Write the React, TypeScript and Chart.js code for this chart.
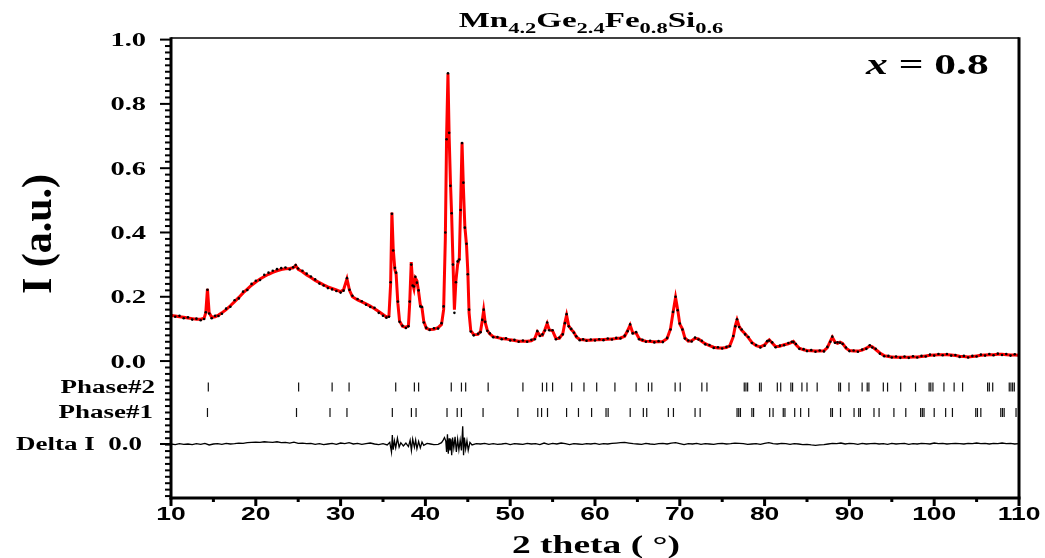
import React, { useEffect, useRef } from "react";
import { Chart, registerables } from "chart.js";

Chart.register(...registerables);

// ---------- data ----------
const TWO_THETA = [
  10.0, 10.5, 11.0, 11.5, 12.0, 12.5, 13.0, 13.5, 13.9, 14.1,
  14.3, 14.5, 14.8, 15.2, 15.6, 16.0, 16.5, 17.0, 17.5, 18.0,
  18.5, 19.0, 19.5, 20.0, 20.5, 21.0, 21.5, 22.0, 22.5, 23.0,
  23.5, 24.0, 24.4, 24.7, 25.0, 25.5, 26.0, 26.5, 27.0, 27.5,
  28.0, 28.5, 29.0, 29.5, 30.0, 30.35, 30.75, 31.05, 31.4, 32.0,
  32.5, 33.0, 33.5, 34.0, 34.5, 35.0, 35.4, 35.7, 35.9, 36.05,
  36.2, 36.4, 36.55, 36.75, 36.95, 37.3, 37.7, 38.0, 38.15, 38.33,
  38.5, 38.65, 38.82, 39.0, 39.2, 39.4, 39.6, 39.8, 40.1, 40.5,
  41.0, 41.5, 41.9, 42.15, 42.35, 42.5, 42.66, 42.8, 42.95, 43.1,
  43.25, 43.42, 43.6, 43.8, 44.0, 44.15, 44.32, 44.48, 44.65, 44.85,
  45.0, 45.15, 45.35, 45.7, 46.2, 46.5, 46.7, 46.87, 47.05, 47.3,
  47.6, 48.0, 48.5, 49.0, 49.5, 50.0, 50.5, 51.0, 51.5, 52.0,
  52.5, 52.9, 53.2, 53.5, 53.8, 54.1, 54.36, 54.6, 55.0, 55.4,
  55.8, 56.2, 56.45, 56.65, 56.9, 57.2, 57.5, 57.8, 58.2, 58.6,
  59.0, 59.5, 60.0, 60.5, 61.0, 61.5, 62.0, 62.5, 63.0, 63.5,
  63.85, 64.14, 64.45, 64.85, 65.2, 65.6, 66.0, 66.5, 67.0, 67.5,
  68.0, 68.5, 68.9, 69.2, 69.5, 69.75, 70.0, 70.3, 70.6, 71.0,
  71.4, 71.8, 72.2, 72.6, 73.0, 73.5, 74.0, 74.5, 75.0, 75.5,
  75.9, 76.3, 76.55, 76.75, 77.0, 77.3, 77.7, 78.1, 78.5, 79.0,
  79.5, 80.0, 80.3, 80.55, 80.9, 81.3, 81.8, 82.3, 82.8, 83.2,
  83.4, 83.7, 84.1, 84.6, 85.0, 85.5, 86.0, 86.5, 87.0, 87.4,
  87.75, 87.98, 88.3, 88.6, 88.9, 89.2, 89.6, 90.0, 90.5, 91.0,
  91.5, 92.0, 92.4, 92.7, 93.1, 93.6, 94.1, 94.6, 95.0, 95.5,
  96.0, 96.5, 97.0, 97.5, 98.0, 98.5, 99.0, 99.5, 100.0, 100.5,
  101.0, 101.5, 102.0, 102.5, 103.0, 103.5, 104.0, 104.5, 105.0, 105.5,
  106.0, 106.5, 107.0, 107.5, 108.0, 108.5, 109.0, 109.5, 110.0,
];

const I_CALC = [
  0.142, 0.140, 0.138, 0.136, 0.134, 0.132, 0.130, 0.130, 0.133, 0.150,
  0.225, 0.150, 0.136, 0.138, 0.143, 0.150, 0.160, 0.172, 0.185, 0.198,
  0.212, 0.224, 0.236, 0.246, 0.255, 0.263, 0.270, 0.276, 0.281, 0.285,
  0.287, 0.288, 0.290, 0.297, 0.285, 0.278, 0.268, 0.260, 0.251, 0.244,
  0.237, 0.231, 0.226, 0.221, 0.216, 0.222, 0.256, 0.220, 0.200, 0.190,
  0.184, 0.178, 0.171, 0.163, 0.154, 0.145, 0.137, 0.140, 0.240, 0.462,
  0.350, 0.285, 0.270, 0.180, 0.125, 0.108, 0.105, 0.110, 0.180, 0.308,
  0.240, 0.225, 0.258, 0.250, 0.215, 0.175, 0.165, 0.125, 0.102, 0.098,
  0.099, 0.104, 0.114, 0.160, 0.380, 0.700, 0.894, 0.700, 0.560, 0.450,
  0.310, 0.160, 0.250, 0.300, 0.320, 0.480, 0.680, 0.540, 0.420, 0.360,
  0.280, 0.150, 0.095, 0.082, 0.083, 0.092, 0.125, 0.158, 0.120, 0.096,
  0.084, 0.076, 0.073, 0.070, 0.069, 0.066, 0.064, 0.062, 0.062, 0.062,
  0.063, 0.070, 0.091, 0.080, 0.080, 0.098, 0.117, 0.098, 0.094, 0.070,
  0.071, 0.085, 0.120, 0.143, 0.110, 0.098, 0.090, 0.075, 0.067, 0.066,
  0.065, 0.065, 0.066, 0.066, 0.067, 0.068, 0.069, 0.070, 0.072, 0.077,
  0.095, 0.112, 0.088, 0.087, 0.070, 0.064, 0.062, 0.061, 0.060, 0.060,
  0.061, 0.070, 0.100, 0.150, 0.198, 0.160, 0.115, 0.100, 0.072, 0.062,
  0.063, 0.071, 0.069, 0.061, 0.054, 0.048, 0.043, 0.041, 0.041, 0.042,
  0.048, 0.075, 0.110, 0.128, 0.108, 0.096, 0.085, 0.072, 0.058, 0.048,
  0.044, 0.050, 0.060, 0.066, 0.056, 0.045, 0.046, 0.051, 0.054, 0.058,
  0.061, 0.051, 0.040, 0.035, 0.033, 0.032, 0.031, 0.031, 0.032, 0.042,
  0.062, 0.074, 0.059, 0.055, 0.059, 0.055, 0.040, 0.033, 0.031, 0.031,
  0.034, 0.040, 0.047, 0.044, 0.036, 0.025, 0.017, 0.014, 0.013, 0.012,
  0.012, 0.012, 0.012, 0.013, 0.013, 0.014, 0.016, 0.018, 0.019, 0.020,
  0.020, 0.020, 0.019, 0.017, 0.015, 0.014, 0.013, 0.014, 0.016, 0.018,
  0.019, 0.020, 0.020, 0.021, 0.021, 0.020, 0.019, 0.019, 0.018,
];

const I_OBS = [
  0.145, 0.138, 0.141, 0.133, 0.136, 0.129, 0.132, 0.127, 0.131, 0.152,
  0.222, 0.148, 0.133, 0.141, 0.140, 0.147, 0.163, 0.169, 0.189, 0.195,
  0.216, 0.221, 0.240, 0.250, 0.252, 0.268, 0.275, 0.281, 0.286, 0.289,
  0.291, 0.285, 0.292, 0.299, 0.288, 0.281, 0.272, 0.263, 0.254, 0.241,
  0.235, 0.227, 0.223, 0.218, 0.213, 0.219, 0.258, 0.222, 0.203, 0.193,
  0.186, 0.175, 0.168, 0.166, 0.150, 0.141, 0.135, 0.138, 0.245, 0.458,
  0.344, 0.290, 0.275, 0.185, 0.122, 0.110, 0.103, 0.108, 0.185, 0.300,
  0.235, 0.232, 0.262, 0.244, 0.220, 0.170, 0.168, 0.120, 0.104, 0.097,
  0.102, 0.101, 0.118, 0.170, 0.400, 0.690, 0.895, 0.710, 0.545, 0.460,
  0.300, 0.150, 0.245, 0.310, 0.316, 0.470, 0.678, 0.555, 0.415, 0.365,
  0.270, 0.160, 0.092, 0.080, 0.085, 0.090, 0.128, 0.160, 0.122, 0.094,
  0.086, 0.074, 0.075, 0.068, 0.071, 0.064, 0.066, 0.060, 0.064, 0.060,
  0.066, 0.068, 0.093, 0.078, 0.083, 0.095, 0.120, 0.096, 0.096, 0.068,
  0.073, 0.083, 0.118, 0.146, 0.108, 0.100, 0.088, 0.077, 0.065, 0.068,
  0.063, 0.067, 0.064, 0.068, 0.065, 0.070, 0.067, 0.072, 0.070, 0.079,
  0.093, 0.114, 0.086, 0.090, 0.068, 0.066, 0.060, 0.063, 0.058, 0.062,
  0.059, 0.072, 0.098, 0.153, 0.200, 0.158, 0.117, 0.098, 0.070, 0.064,
  0.061, 0.073, 0.067, 0.063, 0.052, 0.050, 0.041, 0.043, 0.039, 0.044,
  0.046, 0.078, 0.108, 0.130, 0.106, 0.098, 0.083, 0.075, 0.056, 0.050,
  0.042, 0.048, 0.062, 0.064, 0.058, 0.043, 0.048, 0.049, 0.056, 0.060,
  0.059, 0.053, 0.038, 0.037, 0.031, 0.034, 0.029, 0.033, 0.030, 0.044,
  0.060, 0.076, 0.057, 0.058, 0.057, 0.053, 0.042, 0.031, 0.033, 0.029,
  0.036, 0.038, 0.049, 0.042, 0.038, 0.023, 0.015, 0.016, 0.011, 0.014,
  0.010, 0.014, 0.010, 0.015, 0.011, 0.016, 0.014, 0.020, 0.017, 0.022,
  0.018, 0.022, 0.017, 0.019, 0.013, 0.016, 0.011, 0.016, 0.014, 0.020,
  0.017, 0.022, 0.018, 0.023, 0.019, 0.022, 0.017, 0.021, 0.016,
];

const DELTA_X = [
  10, 10.5, 11, 11.5, 12, 12.5, 13, 13.5, 14, 14.5,
  15, 15.5, 16, 16.5, 17, 17.5, 18, 18.5, 19, 19.5,
  20, 20.5, 21, 21.5, 22, 22.5, 23, 23.5, 24, 24.5,
  25, 25.5, 26, 26.5, 27, 27.5, 28, 28.5, 29, 29.5,
  30, 30.5, 31, 31.5, 32, 32.5, 33, 33.5, 34, 34.5,
  35, 35.5, 35.8, 36.0, 36.1, 36.2, 36.35, 36.5, 36.7, 36.9,
  37.1, 37.4, 37.7, 38.0, 38.2, 38.35, 38.5, 38.7, 38.85, 39.0,
  39.2, 39.4, 39.6, 39.8, 40.2, 40.6, 41.0, 41.5, 41.9, 42.1,
  42.25, 42.4, 42.5, 42.6, 42.7, 42.8, 42.9, 43.0, 43.1, 43.2,
  43.35, 43.5, 43.65, 43.8, 43.95, 44.1, 44.25, 44.4, 44.5, 44.6,
  44.75, 44.9, 45.05, 45.25, 45.5, 46, 46.5, 47, 47.5, 48,
  48.5, 49, 49.5, 50, 50.5, 51, 51.5, 52, 52.5, 53,
  53.5, 54, 54.5, 55, 55.5, 56, 56.5, 57, 57.5, 58,
  58.5, 59, 59.5, 60, 60.5, 61, 61.5, 62, 62.5, 63,
  63.5, 64, 64.5, 65, 65.5, 66, 66.5, 67, 67.5, 68,
  68.5, 69, 69.5, 70, 70.5, 71, 71.5, 72, 72.5, 73,
  73.5, 74, 74.5, 75, 75.5, 76, 76.5, 77, 77.5, 78,
  78.5, 79, 79.5, 80, 80.5, 81, 81.5, 82, 82.5, 83,
  83.5, 84, 84.5, 85, 85.5, 86, 86.5, 87, 87.5, 88,
  88.5, 89, 89.5, 90, 90.5, 91, 91.5, 92, 92.5, 93,
  93.5, 94, 94.5, 95, 95.5, 96, 96.5, 97, 97.5, 98,
  98.5, 99, 99.5, 100, 100.5, 101, 101.5, 102, 102.5, 103,
  103.5, 104, 104.5, 105, 105.5, 106, 106.5, 107, 107.5, 108,
  108.5, 109, 109.5, 110,
];

const DELTA_I = [
  0.000, -0.002, 0.001, -0.001, 0.000, -0.002, 0.001, -0.001, 0.002, -0.003,
  0.000, 0.001, -0.001, 0.002, 0.000, 0.001, 0.003, 0.002, 0.004, 0.005,
  0.006, 0.005, 0.007, 0.006, 0.005, 0.007, 0.004, 0.005, 0.003, 0.006,
  0.002, 0.003, 0.001, 0.002, -0.001, 0.001, -0.002, 0.000, 0.002, -0.001,
  0.003, 0.001, 0.004, 0.000, 0.002, -0.001, 0.001, 0.003, 0.000, -0.002,
  0.001, -0.003, 0.005, -0.025, 0.028, -0.018, 0.010, -0.012, 0.018, -0.010,
  0.004, -0.006, 0.003, -0.008, 0.012, -0.020, 0.015, -0.010, 0.012, -0.015,
  0.008, -0.012, 0.006, -0.004, 0.002, 0.000, -0.002, -0.001, 0.004, 0.012,
  0.020, 0.010, -0.025, 0.030, -0.030, 0.018, -0.020, 0.015, -0.035, 0.020,
  -0.012, 0.022, -0.025, 0.015, -0.018, 0.012, -0.020, 0.055, -0.035, 0.020,
  -0.015, 0.010, -0.020, 0.005, -0.003, 0.001, 0.000, 0.002, -0.001, 0.001,
  -0.001, 0.000, 0.002, -0.002, 0.001, 0.000, -0.001, 0.002, 0.000, 0.001,
  -0.002, 0.003, -0.001, 0.002, 0.000, 0.003, 0.001, -0.002, 0.001, 0.000,
  -0.001, 0.001, 0.000, 0.002, -0.001, 0.001, 0.000, 0.002, 0.003, 0.004,
  0.005, 0.003, 0.001, 0.000, -0.001, 0.002, 0.000, -0.001, 0.001, 0.002,
  0.000, 0.003, 0.004, 0.001, -0.002, 0.001, 0.000, 0.002, -0.001, 0.001,
  0.000, -0.001, 0.001, 0.002, 0.000, 0.001, 0.003, 0.002, 0.001, -0.001,
  0.000, 0.001, -0.001, 0.002, 0.004, 0.001, 0.000, 0.002, 0.001, -0.001,
  0.001, 0.000, -0.002, -0.001, -0.003, -0.004, -0.003, -0.002, 0.000, 0.002,
  0.001, 0.003, 0.000, 0.002, 0.001, -0.001, 0.002, 0.000, 0.001, 0.002,
  0.000, 0.001, -0.001, 0.002, 0.000, 0.001, 0.002, -0.001, 0.001, 0.000,
  0.002, 0.001, 0.000, 0.003, 0.001, 0.002, 0.000, 0.001, 0.002, 0.001,
  0.000, 0.002, 0.001, 0.003, 0.001, 0.002, 0.000, 0.002, 0.001, 0.003,
  0.001, 0.002, 0.000, 0.001,
];

const PHASE2_POS = [
  14.4, 25.05, 29.0, 31.0, 36.5, 38.7, 39.2, 43.05, 44.25, 44.75,
  47.4, 51.5, 53.8, 54.3, 55.0, 57.25, 58.7, 60.2, 62.35, 64.85,
  66.3, 66.7, 69.45, 70.05, 72.6, 73.2, 77.6, 77.8, 78.0, 79.4,
  79.6, 81.5, 81.9, 83.1, 83.3, 84.4, 85.0, 86.2, 88.75, 88.95,
  89.95, 91.5, 92.1, 92.3, 94.0, 94.5, 96.05, 97.8, 99.4, 99.6,
  99.85, 101.15, 102.35, 103.35, 106.3, 106.5, 106.9, 108.85, 109.05, 109.25,
  109.45,
];

const PHASE1_POS = [
  14.3, 24.8, 28.75, 30.75, 36.1, 38.35, 38.9, 42.55, 43.75, 44.25,
  46.8, 50.9, 53.25, 53.7, 54.4, 56.65, 58.05, 59.6, 61.3, 61.55,
  64.15, 65.7, 66.1, 68.65, 69.25, 71.8, 72.4, 76.75, 76.95, 77.15,
  78.5, 78.7, 80.6, 81.0, 82.2, 82.4, 83.55, 84.25, 85.2, 87.8,
  88.0, 88.95, 90.55, 91.1, 91.3, 92.9, 93.5, 95.25, 96.65, 98.4,
  98.6, 98.8, 100.0, 101.35, 102.15, 104.9, 105.1, 105.5, 107.85, 108.05,
  108.25, 109.65,
];

const Y_TICKS = [1.0, 0.8, 0.6, 0.4, 0.2, 0.0];
const X_TICKS = [10, 20, 30, 40, 50, 60, 70, 80, 90, 100, 110];
const FORMULA = [
  ["Mn", "4.2"],
  ["Ge", "2.4"],
  ["Fe", "0.8"],
  ["Si", "0.6"],
];
const PHASE2_ROW = -0.081;
const PHASE1_ROW = -0.16;
const DELTA_ZERO = -0.258;
const Y_MIN = -0.426;
const Y_MAX = 1.005;

// ---------- drawing helpers ----------
const SERIF = '"Liberation Serif", "Times New Roman", serif';
const SANS = '"Liberation Sans", Arial, sans-serif';

function stretchText(
  ctx: CanvasRenderingContext2D,
  text: string,
  x: number,
  y: number,
  font: string,
  align: CanvasTextAlign,
  sx: number
) {
  ctx.save();
  ctx.font = font;
  ctx.textAlign = align;
  ctx.textBaseline = "alphabetic";
  ctx.translate(x, y);
  ctx.scale(sx, 1);
  ctx.fillText(text, 0, 0);
  ctx.restore();
}

function seg(ctx: CanvasRenderingContext2D, x1: number, y1: number, x2: number, y2: number) {
  ctx.beginPath();
  ctx.moveTo(x1, y1);
  ctx.lineTo(x2, y2);
  ctx.stroke();
}

const decoPlugin = {
  id: "xrdDeco",
  afterDraw(chart: any) {
    const ctx: CanvasRenderingContext2D = chart.ctx;
    const xs = chart.scales.x;
    const ys = chart.scales.y;
    const a = chart.chartArea;
    ctx.save();
    ctx.strokeStyle = "#000";
    ctx.fillStyle = "#000";
    ctx.lineCap = "butt";

    // frame
    ctx.lineWidth = 1.6;
    seg(ctx, a.left, a.top, a.right, a.top);
    ctx.lineWidth = 3;
    seg(ctx, a.right, a.top - 0.8, a.right, a.bottom);
    seg(ctx, a.left, a.top - 0.8, a.left, a.bottom + 1.5);
    seg(ctx, a.left - 1.5, a.bottom, a.right + 1.5, a.bottom);

    // y ticks
    ctx.lineWidth = 2;
    for (let k = -21; k <= 50; k++) {
      const v = k / 50;
      const py = ys.getPixelForValue(v);
      const major = k >= 0 && k % 10 === 0;
      const len = major ? 11 : 6;
      seg(ctx, a.left - len, py, a.left, py);
    }
    const pd = ys.getPixelForValue(DELTA_ZERO);
    seg(ctx, a.left - 11, pd, a.left, pd);

    // x ticks
    ctx.lineWidth = 3;
    for (let v = 10; v <= 110; v += 5) {
      const px = xs.getPixelForValue(v);
      const len = v % 10 === 0 ? 8 : 4;
      seg(ctx, px, a.bottom, px, a.bottom + len);
    }

    // x tick labels
    X_TICKS.forEach((v) => {
      stretchText(ctx, String(v), xs.getPixelForValue(v), 520, `bold 18px ${SANS}`, "center", 1.47);
    });

    // y tick labels
    Y_TICKS.forEach((v) => {
      stretchText(ctx, v.toFixed(1), 146, ys.getPixelForValue(v) + 6.5, `bold 19px ${SERIF}`, "right", 1.5);
    });
    stretchText(ctx, "Phase#2", 155, ys.getPixelForValue(PHASE2_ROW) + 6, `bold 18px ${SERIF}`, "right", 1.5);
    stretchText(ctx, "Phase#1", 153, ys.getPixelForValue(PHASE1_ROW) + 6, `bold 18px ${SERIF}`, "right", 1.5);
    stretchText(ctx, "Delta I  0.0", 142, pd + 6.5, `bold 18px ${SERIF}`, "right", 1.5);

    // x axis title
    stretchText(ctx, "2 theta ( \u00B0)", 596, 553, `bold 25px ${SERIF}`, "center", 1.5);

    // y axis title
    ctx.save();
    ctx.translate(40, 234);
    ctx.rotate(-Math.PI / 2);
    ctx.font = `bold 42px ${SERIF}`;
    ctx.textAlign = "center";
    ctx.textBaseline = "middle";
    ctx.fillText("I (a.u.)", 0, 0);
    ctx.restore();

    // title with subscripts
    const SX = 1.5;
    const mainFont = `bold 22px ${SERIF}`;
    const subFont = `bold 15px ${SERIF}`;
    let total = 0;
    FORMULA.forEach(([el, sub]) => {
      ctx.font = mainFont;
      total += ctx.measureText(el).width;
      ctx.font = subFont;
      total += ctx.measureText(sub).width;
    });
    let cx = 591 - (total * SX) / 2;
    FORMULA.forEach(([el, sub]) => {
      stretchText(ctx, el, cx, 27, mainFont, "left", SX);
      ctx.font = mainFont;
      cx += ctx.measureText(el).width * SX;
      stretchText(ctx, sub, cx, 33, subFont, "left", SX);
      ctx.font = subFont;
      cx += ctx.measureText(sub).width * SX;
    });

    // x = 0.8 annotation
    const annFontI = `italic bold 30px ${SERIF}`;
    const annFont = `bold 30px ${SERIF}`;
    stretchText(ctx, "x", 866, 74, annFontI, "left", 1.45);
    ctx.font = annFontI;
    const wx = ctx.measureText("x").width * 1.45;
    stretchText(ctx, " = 0.8", 866 + wx, 74, annFont, "left", 1.45);

    ctx.restore();
  },
};

export default function App() {
  const ref = useRef<HTMLCanvasElement | null>(null);

  useEffect(() => {
    if (!ref.current) return;
    const obs = TWO_THETA.map((x, i) => ({ x, y: I_OBS[i] }));
    const calc = TWO_THETA.map((x, i) => ({ x, y: I_CALC[i] }));
    const delta = DELTA_X.map((x, i) => ({ x, y: DELTA_ZERO + DELTA_I[i] }));
    const ph2 = PHASE2_POS.map((x) => ({ x, y: PHASE2_ROW }));
    const ph1 = PHASE1_POS.map((x) => ({ x, y: PHASE1_ROW }));

    const chart = new Chart(ref.current, {
      type: "line",
      data: {
        datasets: [
          {
            label: "Observed",
            data: obs,
            showLine: false,
            pointRadius: 1.3,
            pointBackgroundColor: "#000",
            pointBorderWidth: 0,
            borderColor: "#000",
          },
          {
            label: "Calculated",
            data: calc,
            borderColor: "#ff0000",
            borderWidth: 3,
            pointRadius: 0,
            tension: 0,
          },
          {
            label: "Delta I",
            data: delta,
            borderColor: "#000",
            borderWidth: 1.3,
            pointRadius: 0,
            tension: 0,
          },
          {
            label: "Phase#2",
            data: ph2,
            showLine: false,
            pointStyle: "line",
            rotation: 90,
            pointRadius: 4.5,
            borderColor: "#111",
            pointBorderColor: "#111",
            pointBorderWidth: 1.2,
          },
          {
            label: "Phase#1",
            data: ph1,
            showLine: false,
            pointStyle: "line",
            rotation: 90,
            pointRadius: 4.5,
            borderColor: "#111",
            pointBorderColor: "#111",
            pointBorderWidth: 1.2,
          },
        ],
      } as any,
      options: {
        responsive: false,
        animation: false,
        events: [],
        layout: { padding: { left: 171, right: 26, top: 38, bottom: 60 } },
        plugins: { legend: { display: false }, tooltip: { enabled: false }, title: { display: false } },
        scales: {
          x: { type: "linear", min: 10, max: 110, display: false },
          y: { type: "linear", min: Y_MIN, max: Y_MAX, display: false },
        },
      } as any,
      plugins: [decoPlugin],
    });
    return () => chart.destroy();
  }, []);

  return (
    <div style={{ position: "fixed", left: 0, top: 0, width: 1045, height: 558, background: "#fff" }}>
      <canvas ref={ref} width={1045} height={558} style={{ display: "block" }} />
    </div>
  );
}
